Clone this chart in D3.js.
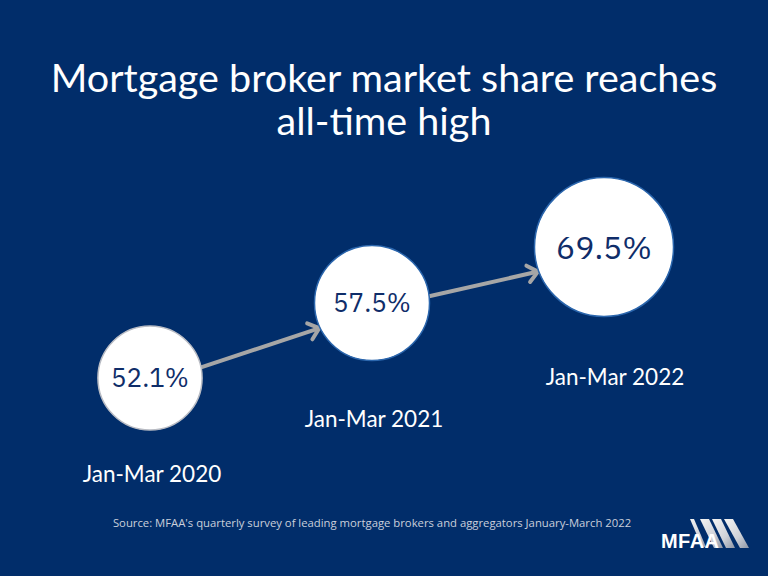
<!DOCTYPE html>
<html>
<head>
<meta charset="utf-8">
<script src="https://cdn.jsdelivr.net/npm/d3@7"></script>
<style>
  html, body { margin: 0; padding: 0; background: #012d6a; }
  svg { display: block; }
</style>
</head>
<body>
<script>
// ---- data ----
const categories = ["Jan-Mar 2020", "Jan-Mar 2021", "Jan-Mar 2022"];
const shareValues = [52.1, 57.5, 69.5];
const valueLabels = ["52.1%", "57.5%", "69.5%"];
const titleLines = ["Mortgage broker market share reaches", "all-time high"];
const sourceText = "Source: MFAA's quarterly survey of leading mortgage brokers and aggregators January-March 2022";

const W = 768, H = 576;
const svg = d3.select("body").append("svg").attr("width", W).attr("height", H);
svg.append("rect").attr("width", W).attr("height", H).attr("fill", "#012d6a");

const defs = svg.append("defs");
const grad = defs.append("linearGradient").attr("id", "silver").attr("x1", 0).attr("y1", 0).attr("x2", 1).attr("y2", 1);
grad.append("stop").attr("offset", "0%").attr("stop-color", "#f4f4f4");
grad.append("stop").attr("offset", "60%").attr("stop-color", "#cfd2d8");
grad.append("stop").attr("offset", "100%").attr("stop-color", "#8e96a6");

// ---- scales (layout) ----
const cx = d3.scaleOrdinal().domain(categories).range([150, 372, 604]);
const cy = d3.scaleOrdinal().domain(categories).range([378, 303, 247]);
const rScale = d3.scaleLinear().domain([0, 100]).range([0, 100]);
const labelX = d3.scaleOrdinal().domain(categories).range([152, 374, 615]);
const labelY = d3.scaleOrdinal().domain(categories).range([482, 427, 385]);
const valueFont = d3.scaleOrdinal().domain(categories).range([26, 26, 32]);

const data = categories.map((c, i) => ({ cat: c, value: shareValues[i], label: valueLabels[i] }));

// ---- title ----
svg.append("g").selectAll("text").data(titleLines).join("text")
  .attr("x", W / 2)
  .attr("y", (d, i) => 92 + i * 43)
  .attr("text-anchor", "middle")
  .attr("fill", "#ffffff")
  .attr("font-family", "Lato, 'Open Sans', sans-serif")
  .attr("font-size", 39.5)
  .text(d => d);

// ---- arrows ----
function chevron(g, x, y, ang) {
  const len = 13, spread = 0.7;
  const p1 = [x - len * Math.cos(ang - spread), y - len * Math.sin(ang - spread)];
  const p2 = [x - len * Math.cos(ang + spread), y - len * Math.sin(ang + spread)];
  g.append("path")
    .attr("d", d3.line()([p1, [x, y], p2]))
    .attr("fill", "none").attr("stroke", "#a6a6a6").attr("stroke-width", 4)
    .attr("stroke-linecap", "round").attr("stroke-linejoin", "round");
}
const arrows = svg.append("g");
for (let i = 0; i < data.length - 1; i++) {
  const a = data[i], b = data[i + 1];
  const ax = cx(a.cat), ay = cy(a.cat), bx = cx(b.cat), by = cy(b.cat);
  const ra = rScale(a.value), rb = rScale(b.value);
  const ang = Math.atan2(by - ay, bx - ax);
  const x0 = ax + ra * Math.cos(ang + 0.12), y0 = ay + ra * Math.sin(ang + 0.12);
  const x1 = bx - (rb + 1) * Math.cos(ang - 0.12), y1 = by - (rb + 1) * Math.sin(ang - 0.12);
  const ang2 = Math.atan2(y1 - y0, x1 - x0);
  arrows.append("line")
    .attr("x1", x0).attr("y1", y0).attr("x2", x1 - 2 * Math.cos(ang2)).attr("y2", y1 - 2 * Math.sin(ang2))
    .attr("stroke", "#a6a6a6").attr("stroke-width", 4);
  chevron(arrows, x1, y1, ang2);
}

// ---- circles ----
const nodes = svg.append("g").selectAll("g").data(data).join("g");
nodes.append("circle")
  .attr("cx", d => cx(d.cat)).attr("cy", d => cy(d.cat)).attr("r", d => rScale(d.value))
  .attr("fill", "#ffffff")
  .attr("stroke", (d, i) => i === 0 ? "#b9bcc4" : "#2b66ad")
  .attr("stroke-width", 1.5);
nodes.append("text")
  .attr("x", d => cx(d.cat)).attr("y", d => cy(d.cat))
  .attr("dy", "0.36em")
  .attr("text-anchor", "middle")
  .attr("fill", "#0f2d69")
  .attr("font-family", "'IBM Plex Sans', 'Open Sans', sans-serif")
  .attr("font-size", d => valueFont(d.cat))
  .text(d => d.label);

// ---- period labels ----
svg.append("g").selectAll("text").data(categories).join("text")
  .attr("x", d => labelX(d))
  .attr("y", d => labelY(d))
  .attr("text-anchor", "middle")
  .attr("fill", "#ffffff")
  .attr("font-family", "Lato, 'Open Sans', sans-serif")
  .attr("font-size", 22.5)
  .text(d => d);

// ---- source ----
svg.append("text")
  .attr("x", 372).attr("y", 527)
  .attr("text-anchor", "middle")
  .attr("fill", "#c9cfdb")
  .attr("font-family", "'Open Sans', sans-serif")
  .attr("font-size", 11.3)
  .text(sourceText);

// ---- logo ----
const logo = svg.append("g");
const stripes = [
  [[690, 519], [694, 519], [706, 547], [702, 547]],
  [[700, 519], [709, 519], [723, 548], [714, 548]],
  [[712, 519], [721, 519], [735, 548], [726, 548]],
  [[724, 519], [733, 519], [749, 548], [740, 548]]
];
logo.selectAll("path").data(stripes).join("path")
  .attr("d", d => d3.line()(d) + "Z")
  .attr("fill", "url(#silver)");
logo.append("text")
  .attr("x", 661).attr("y", 548)
  .attr("fill", "#ffffff")
  .attr("font-family", "'Liberation Sans', Arial, sans-serif")
  .attr("font-weight", "bold")
  .attr("font-size", 20)
  .attr("textLength", 58)
  .text("MFAA");
</script>
</body>
</html>
